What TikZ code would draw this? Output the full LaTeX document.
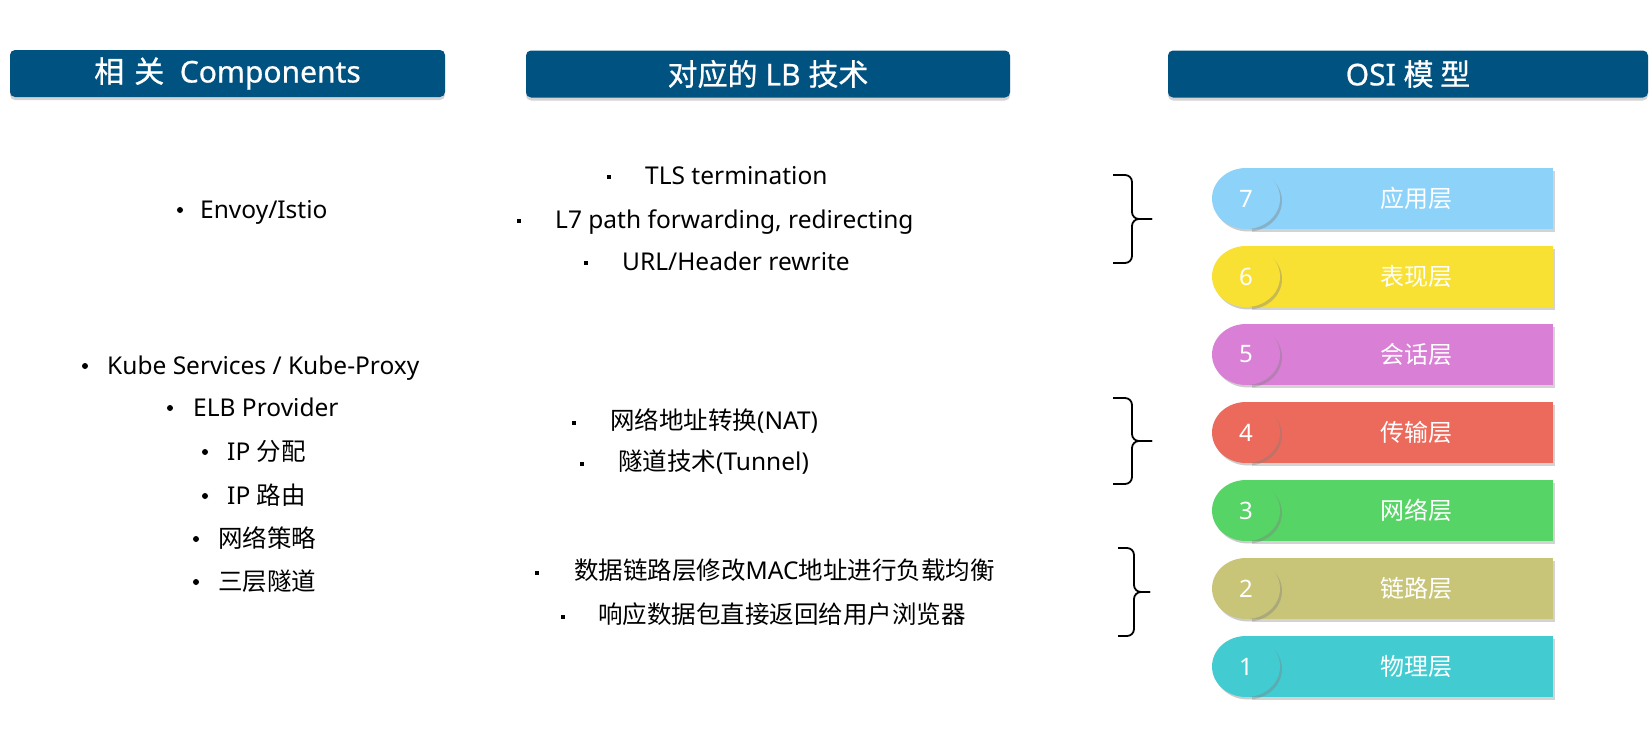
\documentclass[tikz,border=0pt]{standalone}
\usepackage{fontspec}
\setmainfont{Noto Sans}
\newfontfamily\cjk{Noto Sans CJK SC}
\newfontfamily\hdrlat{Noto Sans}[FakeBold=0.7]
\newfontfamily\hdrcjk{Noto Sans CJK SC}[FakeBold=0.7]
\usetikzlibrary{shapes.geometric,shadows}

\definecolor{hdrblue}{HTML}{005281}
\definecolor{lay7}{HTML}{8DD3F9}
\definecolor{lay6}{HTML}{F8E133}
\definecolor{lay5}{HTML}{D97FD5}
\definecolor{lay4}{HTML}{EC6A5B}
\definecolor{lay3}{HTML}{57D466}
\definecolor{lay2}{HTML}{C9C578}
\definecolor{lay1}{HTML}{42CCD2}

\newcommand\hz[1]{{\hdrcjk #1}}

\tikzset{
  hdr/.style={rectangle, rounded corners=5pt, fill=hdrblue, text=white,
    minimum height=47pt, inner sep=0pt,
    font=\fontsize{30}{34}\selectfont\hdrlat,
    drop shadow={shadow xshift=0pt, shadow yshift=-3pt, opacity=0.35}},
  item/.style={anchor=west, inner sep=0pt, text height=20pt, text depth=4pt,
    font=\fontsize{24.5}{28}\selectfont},
  dotA/.style={circle, fill=black, inner sep=0pt, minimum size=6pt},
  dotB/.style={rectangle, fill=black, inner sep=0pt, minimum size=3.4pt},
  laybar/.style={rectangle, inner sep=0pt, minimum width=303pt, minimum height=61pt,
    anchor=west, fill=#1,
    drop shadow={shadow xshift=2pt, shadow yshift=-3pt, opacity=0.35}},
  laycirc/.style={ellipse, inner sep=0pt, minimum width=68pt, minimum height=61pt,
    fill=#1, text=white, font=\fontsize{24}{28}\selectfont,
    drop shadow={shadow xshift=2pt, shadow yshift=-2.5pt, opacity=0.4}},
  laytxt/.style={text=white, inner sep=0pt, font=\fontsize{24}{28}\selectfont\cjk},
  bracel/.style={draw=black, line width=1.8pt, rounded corners=7pt}
}

\begin{document}
\begin{tikzpicture}[x=1pt, y=-1pt]
\useasboundingbox (0,0) rectangle (1650,736);

% column headers
\node[hdr, minimum width=435pt] (h1) at (227.5,73.5) {\hz{相\,\,关}\ \ Components};
\node[hdr, minimum width=484pt] (h2) at (768,74) {\hz{对应的} LB \hz{技术}};
\node[hdr, minimum width=480pt] (h3) at (1408,74) {OSI \hz{模\ 型}};

% components column
\node[dotA] (ca) at (180,210) {};
\node[item] (ta) at (200,210) {Envoy/Istio};
\node[dotA] (cb) at (85,366) {};
\node[item] (tb) at (107,366) {Kube Services / Kube-Proxy};
\node[dotA] (cc) at (170,408) {};
\node[item] (tc) at (193,408) {ELB Provider};
\node[dotA] (cd) at (205,452) {};
\node[item] (td) at (227,452) {IP {\cjk 分配}};
\node[dotA] (ce) at (205,496) {};
\node[item] (te) at (227,496) {IP {\cjk 路由}};
\node[dotA] (cf) at (196,539) {};
\node[item] (tf) at (218,539) {\cjk 网络策略};
\node[dotA] (cg) at (196,582) {};
\node[item] (tg) at (218,582) {\cjk 三层隧道};

% load balancing techniques column
\node[dotB] (da) at (609,177) {};
\node[item] (ua) at (645,176) {TLS termination};
\node[dotB] (db) at (519,221) {};
\node[item] (ub) at (555,220) {L7 path forwarding, redirecting};
\node[dotB] (dc) at (586,263) {};
\node[item] (uc) at (622,262) {URL/Header rewrite};
\node[dotB] (dd) at (574,423) {};
\node[item] (ud) at (610,421) {{\cjk 网络地址转换}(NAT)};
\node[dotB] (de) at (582,464) {};
\node[item] (ue) at (618,462) {{\cjk 隧道技术}(Tunnel)};
\node[dotB] (df) at (537,573) {};
\node[item] (uf) at (574,571) {{\cjk 数据链路层修改}MAC{\cjk 地址进行负载均衡}};
\node[dotB] (dg) at (563,617) {};
\node[item] (ug) at (598,615) {\cjk 响应数据包直接返回给用户浏览器};

% braces grouping the OSI layers
\draw[bracel] (1113,175) -- (1132,175) -- (1132,219) -- (1152,219);
\draw[bracel] (1113,263) -- (1132,263) -- (1132,219) -- (1152,219);
\draw[bracel] (1113,398) -- (1132,398) -- (1132,441) -- (1152,441);
\draw[bracel] (1113,484) -- (1132,484) -- (1132,441) -- (1152,441);
\draw[bracel] (1118,548) -- (1134,548) -- (1134,592) -- (1150,592);
\draw[bracel] (1118,636) -- (1134,636) -- (1134,592) -- (1150,592);

% OSI layers
\foreach \n/\yy/\name in {7/198.5/应用层, 6/276.5/表现层, 5/354.5/会话层, 4/432.5/传输层,
                           3/510.5/网络层, 2/588.5/链路层, 1/666.5/物理层} {
  \node[laybar=lay\n] (bar\n) at (1250,\yy) {};
  \node[laycirc=lay\n] (num\n) at (1246,\yy) {\n};
  \node[laytxt] (lbl\n) at (1416,\yy) {\name};
}
\end{tikzpicture}
\end{document}
